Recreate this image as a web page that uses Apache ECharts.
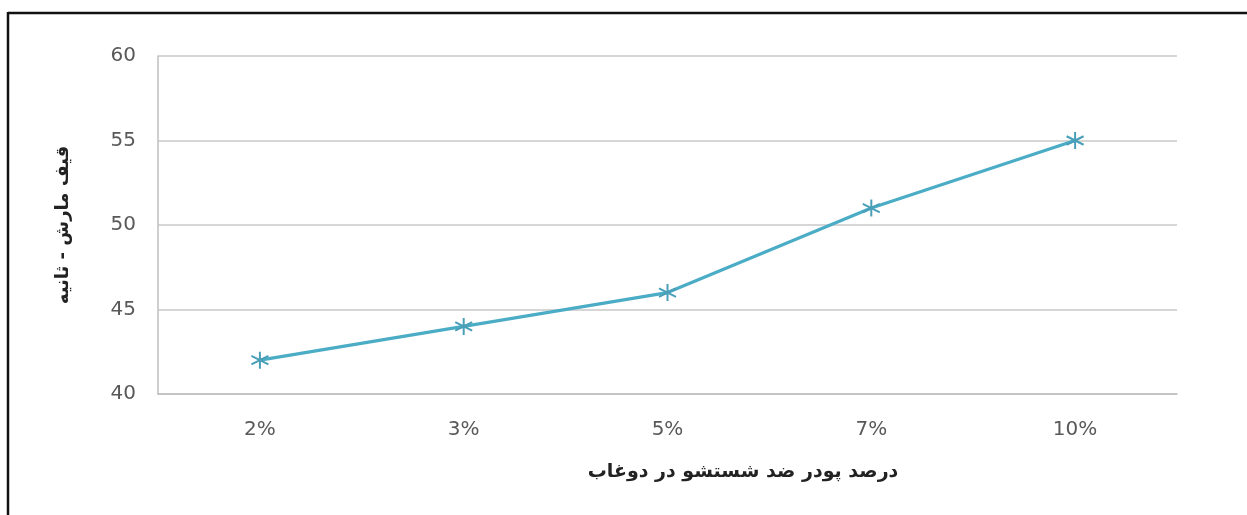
<!DOCTYPE html>
<html>
<head>
<meta charset="utf-8">
<script src="https://cdn.jsdelivr.net/npm/echarts@6/dist/echarts.min.js"></script>
<style>
  html, body { margin: 0; padding: 0; background: #fff; }
  #chart { width: 1247px; height: 515px; }
</style>
</head>
<body>
<div id="chart"></div>
<script>
// Marsh funnel time versus detergent powder percentage in grout
const categories = ['2%', '3%', '5%', '7%', '10%'];
const funnelSeconds = [42, 44, 46, 51, 55];
const yTicks = { min: 40, max: 60, step: 5 };
const xTitle = 'درصد پودر ضد شستشو در دوغاب';
const yTitle = 'قیف مارش - ثانیه';

const chart = echarts.init(document.getElementById('chart'), null, { renderer: 'canvas' });

// asterisk-shaped marker (vertical stroke plus two diagonals)
const starPath = 'path://M0,-6L0,6M-5.2,-3L5.2,3M-5.2,3L5.2,-3';

chart.setOption({
  animation: false,
  backgroundColor: '#ffffff',
  textStyle: { fontFamily: 'DejaVu Sans, sans-serif' },
  graphic: [
    { type: 'line', shape: { x1: 8, y1: 13, x2: 1247, y2: 13 }, style: { stroke: '#111', lineWidth: 2.5 } },
    { type: 'line', shape: { x1: 8, y1: 12, x2: 8, y2: 515 }, style: { stroke: '#111', lineWidth: 2.5 } }
  ],
  title: {
    text: xTitle,
    left: 738,
    top: 458,
    textAlign: 'center',
    textStyle: { color: '#222', fontSize: 19, fontWeight: 'bold', fontFamily: 'DejaVu Sans, Noto Sans, sans-serif' }
  },
  grid: { left: 158, right: 70, top: 56, bottom: 121 },
  xAxis: {
    type: 'category',
    data: categories,
    boundaryGap: true,
    axisLine: { show: true, lineStyle: { color: '#bfbfbf', width: 1.5 } },
    axisTick: { show: false },
    axisLabel: { color: '#595959', fontSize: 20, margin: 26, fontFamily: 'DejaVu Sans, sans-serif' }
  },
  yAxis: {
    type: 'value',
    min: yTicks.min,
    max: yTicks.max,
    interval: yTicks.step,
    axisLine: { show: true, lineStyle: { color: '#bfbfbf', width: 1.5 } },
    axisTick: { show: false },
    splitLine: { show: true, lineStyle: { color: '#c8c8c8', width: 1.5 } },
    axisLabel: { color: '#595959', fontSize: 20, margin: 22, fontFamily: 'DejaVu Sans, sans-serif' },
    name: yTitle,
    nameLocation: 'middle',
    nameRotate: 90,
    nameGap: 86,
    nameTextStyle: { color: '#222', fontSize: 18, fontWeight: 'bold', fontFamily: 'DejaVu Sans, Noto Sans, sans-serif' }
  },
  series: [{
    type: 'line',
    data: funnelSeconds,
    symbol: starPath,
    symbolSize: 17,
    showAllSymbol: true,
    lineStyle: { color: '#4bacc6', width: 3.2 },
    itemStyle: { color: 'rgba(0,0,0,0)', borderColor: '#4a9fb8', borderWidth: 2 },
    z: 3
  }]
});
</script>
</body>
</html>
